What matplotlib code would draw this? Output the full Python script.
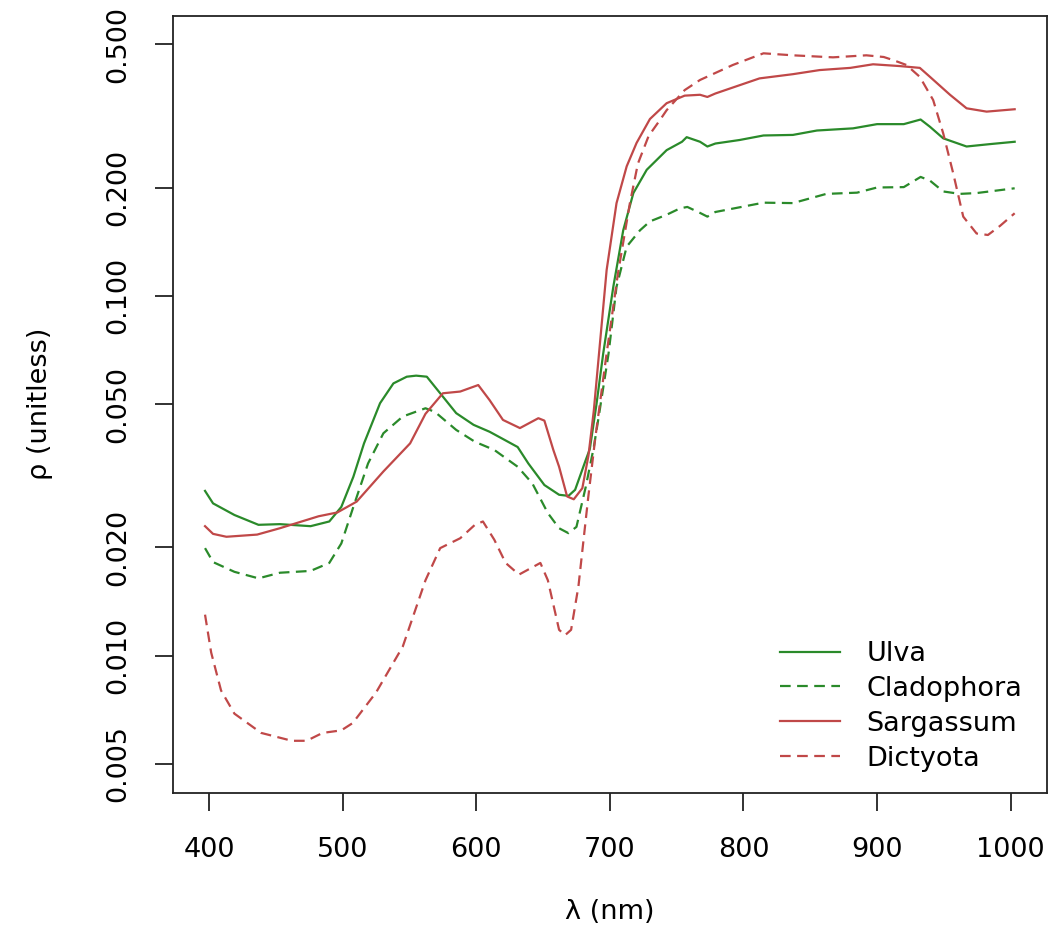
import matplotlib
matplotlib.use("Agg")
import matplotlib.pyplot as plt

plt.rcParams['font.family'] = ['DejaVu Sans']

# --- DATA ---
ulva_nm = [397, 403, 419, 437, 453, 476, 490, 499, 508, 516, 528, 538, 548, 555, 563,
           573, 585, 598, 610, 620, 631, 639, 651, 662, 669, 674, 682, 685, 690, 695,
           702.6, 710, 717.6, 727.6, 742.5, 754, 757.5, 767.5, 773, 779, 797, 815, 837,
           855, 882, 900, 920, 932.6, 939.6, 949.5, 967, 984.5, 1003]
ulva = [0.0287, 0.0265, 0.0246, 0.0231, 0.0232, 0.0229, 0.0236, 0.0259, 0.0314, 0.0389,
        0.0503, 0.0571, 0.0596, 0.0600, 0.0596, 0.0536, 0.0472, 0.0438, 0.0419, 0.0400,
        0.0380, 0.0342, 0.0298, 0.0280, 0.0278, 0.0289, 0.0350, 0.0375, 0.0500, 0.0690,
        0.106, 0.152, 0.193, 0.224, 0.254, 0.268, 0.276, 0.268, 0.260, 0.265, 0.271,
        0.279, 0.280, 0.288, 0.292, 0.300, 0.300, 0.309, 0.295, 0.274, 0.260, 0.264, 0.268]

clad_nm = [397, 403, 419, 437, 453, 476, 490, 499, 508, 519, 530.5, 545, 562, 569, 585,
           599, 613.5, 631, 642, 653.6, 662, 669, 675, 682, 688, 692, 699, 705, 712.6,
           722.5, 730, 742.5, 752.5, 758, 767.5, 773, 779, 815, 837, 862, 885, 900, 920,
           932.6, 939.6, 949.5, 962, 974.5, 1003]
clad = [0.0199, 0.0182, 0.0171, 0.0164, 0.0170, 0.0172, 0.0181, 0.0205, 0.0259, 0.0342,
        0.0415, 0.0462, 0.0487, 0.0476, 0.0424, 0.0393, 0.0373, 0.0335, 0.0301, 0.0249,
        0.0226, 0.0219, 0.0228, 0.0295, 0.0380, 0.0470, 0.0690, 0.106, 0.137, 0.152,
        0.161, 0.168, 0.175, 0.1766, 0.170, 0.166, 0.171, 0.1815, 0.181, 0.192, 0.1935,
        0.200, 0.2005, 0.214, 0.209, 0.195, 0.192, 0.193, 0.199]

sarg_nm = [397, 403, 413, 436, 453, 482, 496, 510.5, 530.5, 550.5, 562, 575, 588, 601.5,
           610, 620, 632.7, 646.5, 651, 657.7, 662, 668, 673, 679.4, 684, 688, 691.4,
           697.6, 705, 712.6, 720, 730, 742.5, 756, 767.5, 773, 779, 812, 837, 857, 880,
           897, 917, 932, 939.6, 954.6, 967, 982, 1003]
sarg = [0.0229, 0.0218, 0.0214, 0.0217, 0.0226, 0.0244, 0.0250, 0.0268, 0.0325, 0.0389,
        0.0470, 0.0536, 0.0542, 0.0565, 0.0513, 0.0452, 0.0429, 0.0457, 0.0450, 0.0373,
        0.0335, 0.0277, 0.0272, 0.0292, 0.0360, 0.0480, 0.0660, 0.118, 0.181, 0.229,
        0.266, 0.310, 0.343, 0.360, 0.362, 0.357, 0.365, 0.402, 0.413, 0.424, 0.430,
        0.440, 0.435, 0.430, 0.406, 0.362, 0.332, 0.325, 0.330]

dict_nm = [397, 401.6, 409, 419, 439, 462, 473, 485, 499, 507.6, 525, 545, 562, 573, 588,
           599, 605, 613.5, 622, 632, 648, 653.6, 662, 666.5, 671, 676.5, 683.6, 689,
           697.6, 706, 715, 721, 729, 737.5, 742.5, 756, 767.5, 792, 815, 837, 867, 892,
           905, 912, 922, 932, 942, 949.5, 957, 964.5, 974.5, 983, 992, 1003]
dicty = [0.0130, 0.0102, 0.0080, 0.0069, 0.0061, 0.0058, 0.0058, 0.0061, 0.0062, 0.0065,
         0.0079, 0.0106, 0.0162, 0.0199, 0.0212, 0.0231, 0.0236, 0.0210, 0.0181, 0.0168,
         0.0181, 0.0162, 0.0118, 0.0114, 0.0118, 0.0156, 0.0271, 0.0400, 0.0692, 0.115,
         0.181, 0.233, 0.278, 0.308, 0.328, 0.373, 0.398, 0.438, 0.472, 0.466, 0.460,
         0.466, 0.461, 0.452, 0.438, 0.406, 0.350, 0.283, 0.219, 0.166, 0.149, 0.1476,
         0.1564, 0.1696]

yticks = [0.005, 0.010, 0.020, 0.050, 0.100, 0.200, 0.500]
ytick_labels = ["0.005", "0.010", "0.020", "0.050", "0.100", "0.200", "0.500"]
xticks = [400, 500, 600, 700, 800, 900, 1000]

GREEN = '#2A8A2A'
RED = '#C04848'
FS = 19.5

fig = plt.figure(figsize=(10.6, 9.27), dpi=100)
ax = fig.add_axes([172.7 / 1060, 1 - 792.7 / 927, (1047 - 172.7) / 1060, (792.7 - 15.7) / 927])

dash = (0, (4.8, 2.9))
ax.plot(ulva_nm, ulva, color=GREEN, lw=1.6, label="Ulva")
ax.plot(clad_nm, clad, color=GREEN, lw=1.6, ls=dash, label="Cladophora")
ax.plot(sarg_nm, sarg, color=RED, lw=1.6, label="Sargassum")
ax.plot(dict_nm, dicty, color=RED, lw=1.6, ls=dash, label="Dictyota")

ax.set_yscale('log')
ax.set_xlim(372.8, 1027.2)
ax.set_ylim(0.005 / 10 ** 0.0798, 0.5 * 10 ** 0.0795)
ax.set_xticks(xticks)
ax.set_yticks(yticks)
ax.set_yticklabels(ytick_labels)
ax.yaxis.set_minor_locator(matplotlib.ticker.NullLocator())

for s in ax.spines.values():
    s.set_linewidth(1.3)
    s.set_color('#222222')
ax.tick_params(axis='both', direction='out', length=13, width=1.3, color='#222222',
               labelsize=FS)
ax.tick_params(axis='x', pad=19)
ax.tick_params(axis='y', pad=17)
for lab in ax.get_yticklabels():
    lab.set_rotation(90)
    lab.set_va('center')

ax.set_xlabel("λ (nm)", fontsize=FS)
ax.xaxis.label.set_va('center')
ax.xaxis.set_label_coords(0.5, (792.7 - 912) / (792.7 - 15.7))
ax.set_ylabel("ρ (unitless)", fontsize=FS)
ax.yaxis.label.set_va('center')
ax.yaxis.set_label_coords((40 - 172.7) / (1047 - 172.7), 0.5)

ax.legend(loc='upper left', bbox_to_anchor=(780 / 1060, 1 - 641 / 927),
          bbox_transform=fig.transFigure, frameon=False, fontsize=FS,
          handlelength=2.2, handletextpad=1.0, labelspacing=0.33,
          borderpad=0, borderaxespad=0)

fig.savefig("out.png", dpi=100)
